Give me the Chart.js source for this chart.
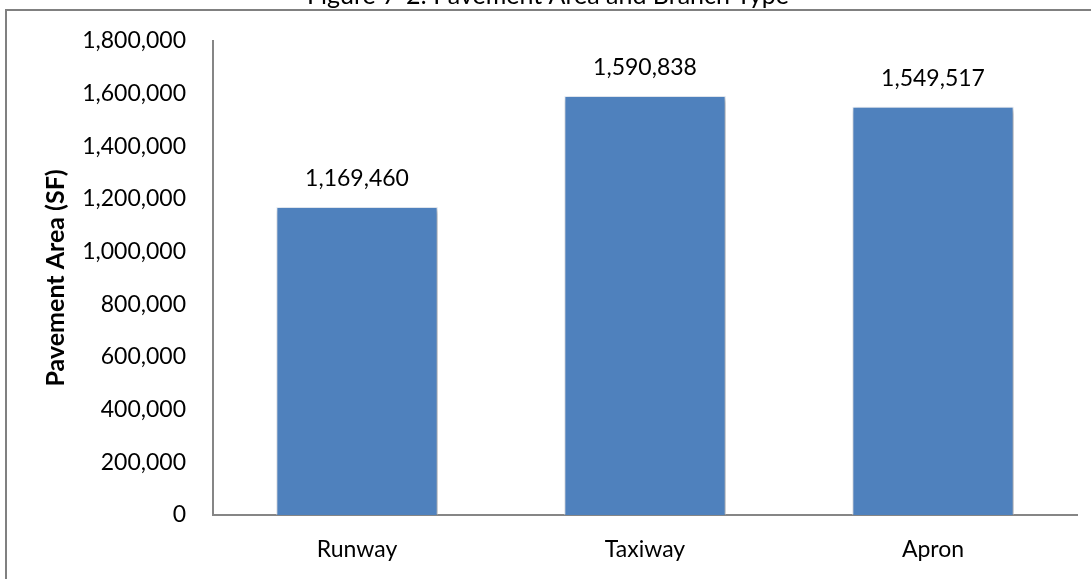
<!DOCTYPE html>
<html>
<head>
<meta charset="utf-8">
<script src="https://cdn.jsdelivr.net/npm/chart.js@4"></script>
<style>
  body { margin: 0; background: #fff; }
  #wrap { width: 1091px; height: 579px; }
</style>
</head>
<body>
<div id="wrap"><canvas id="chart" width="1091" height="579"></canvas></div>
<script>
const categories = ['Runway', 'Taxiway', 'Apron'];
const areaValues = [1169460, 1590838, 1549517];
const yTicks = [0, 200000, 400000, 600000, 800000, 1000000, 1200000, 1400000, 1600000, 1800000];
const titleText = 'Figure 7-2: Pavement Area and Branch Type';
const yTitle = 'Pavement Area (SF)';

const fontFamily = 'Lato, "Open Sans", sans-serif';
const fmt = v => v.toLocaleString('en-US');

// frame + cut-off title, like the Word figure box
const framePlugin = {
    id: 'frame',
    beforeDraw(chart) {
        const ctx = chart.ctx;
        ctx.save();
        ctx.fillStyle = '#fff';
        ctx.fillRect(0, 0, chart.width, chart.height);
        ctx.strokeStyle = '#808080';
        ctx.lineWidth = 2;
        ctx.beginPath();
        ctx.moveTo(5, 10);
        ctx.lineTo(chart.width, 10);
        ctx.moveTo(6, 9);
        ctx.lineTo(6, chart.height);
        ctx.stroke();
        ctx.fillStyle = '#000';
        ctx.font = '25px ' + fontFamily;
        ctx.textAlign = 'center';
        ctx.textBaseline = 'alphabetic';
        ctx.fillText(titleText, 548, 4);
        ctx.restore();
    }
};

// soft drop shadow behind bars
const shadowPlugin = {
    id: 'barShadow',
    beforeDatasetDraw(chart) {
        const ctx = chart.ctx;
        ctx.save();
        ctx.shadowColor = 'rgba(0,0,0,0.35)';
        ctx.shadowBlur = 5;
        ctx.shadowOffsetX = 2;
        ctx.shadowOffsetY = 2;
    },
    afterDatasetDraw(chart) {
        chart.ctx.restore();
    }
};

const labelPlugin = {
    id: 'valueLabels',
    afterDatasetsDraw(chart) {
        const ctx = chart.ctx;
        const meta = chart.getDatasetMeta(0);
        ctx.save();
        ctx.fillStyle = '#000';
        ctx.font = '23px ' + fontFamily;
        ctx.textAlign = 'center';
        ctx.textBaseline = 'middle';
        meta.data.forEach((bar, i) => {
            ctx.fillText(fmt(areaValues[i]), bar.x, bar.y - 28);
        });
        ctx.restore();
    }
};

new Chart(document.getElementById('chart'), {
    type: 'bar',
    data: {
        labels: categories,
        datasets: [{
            data: areaValues,
            backgroundColor: '#4F81BD',
            borderColor: '#e8eef6',
            borderWidth: 1,
            barPercentage: 0.56,
            categoryPercentage: 1
        }]
    },
    options: {
        responsive: false,
        animation: false,
        layout: { padding: { top: 40, right: 14, left: 0, bottom: 0 } },
        plugins: {
            legend: { display: false },
            tooltip: { enabled: false }
        },
        scales: {
            x: {
                grid: { display: false, drawTicks: false },
                border: { color: '#868686', width: 2 },
                ticks: { color: '#000', font: { family: fontFamily, size: 23 }, padding: 21 },
                afterFit(scale) { scale.height = 64; }
            },
            y: {
                min: 0,
                max: 1800000,
                grid: { display: false, drawTicks: false },
                border: { color: '#868686', width: 2 },
                afterBuildTicks(scale) { scale.ticks = yTicks.map(v => ({ value: v })); },
                ticks: {
                    color: '#000',
                    font: { family: fontFamily, size: 23 },
                    padding: 27,
                    callback: v => fmt(v)
                },
                title: {
                    display: true,
                    text: yTitle,
                    color: '#000',
                    font: { family: fontFamily, size: 25, weight: 'bold' },
                    padding: { top: 41, bottom: 0 }
                },
                afterFit(scale) { scale.width = 213; }
            }
        }
    },
    plugins: [framePlugin, shadowPlugin, labelPlugin]
});
</script>
</body>
</html>
